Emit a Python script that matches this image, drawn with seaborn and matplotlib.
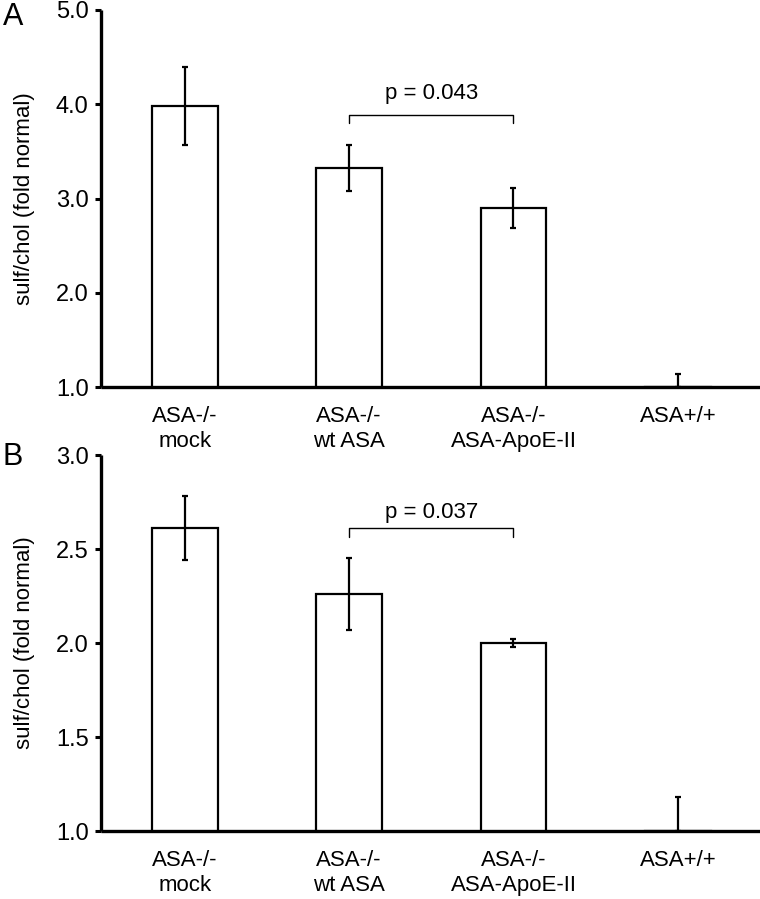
import matplotlib
matplotlib.use("Agg")
import matplotlib.pyplot as plt
import seaborn as sns
import pandas as pd
import numpy as np

categories = ["ASA-/-\nmock", "ASA-/-\nwt ASA", "ASA-/-\nASA-ApoE-II", "ASA+/+"]
a_mean = [3.98, 3.32, 2.90, 1.00]
a_err_lo = [0.41, 0.245, 0.215, 0.0]
a_err_hi = [0.41, 0.245, 0.215, 0.14]
b_mean = [2.61, 2.26, 2.00, 1.00]
b_err_lo = [0.17, 0.19, 0.02, 0.0]
b_err_hi = [0.17, 0.19, 0.02, 0.18]
a_ticks = [1.0, 2.0, 3.0, 4.0, 5.0]
b_ticks = [1.0, 1.5, 2.0, 2.5, 3.0]
a_p = "p = 0.043"
b_p = "p = 0.037"

sns.set_style("ticks")
plt.rcParams['font.family'] = ['Liberation Sans', 'DejaVu Sans']
plt.rcParams['text.color'] = 'black'
plt.rcParams['axes.labelcolor'] = 'black'

fig = plt.figure(figsize=(7.6, 8.99), dpi=100)
axA = fig.add_axes([101/760, (899-387)/899, 659/760, 377/899])
axB = fig.add_axes([101/760, (899-831)/899, 659/760, 376/899])


def panel(ax, mean, lo, hi, ticks, ptext, bracket_y, text_y, letter, letter_y):
    df = pd.DataFrame({"group": categories, "value": mean})
    sns.barplot(data=df, x="group", y="value", ax=ax, color="white",
                edgecolor="black", linewidth=1.6, width=0.40, errorbar=None,
                saturation=1)
    xs = np.arange(len(categories))
    ax.errorbar(xs, mean, yerr=[lo, hi], fmt="none", ecolor="black",
                elinewidth=1.6, capsize=2.5, capthick=1.6, zorder=5)
    ax.set_ylim(ticks[0], ticks[-1])
    ax.set_yticks(ticks)
    ax.set_yticklabels([f"{t:.1f}" for t in ticks])
    ax.set_xlim(-0.51, 3.5)
    ax.set_xlabel("")
    ax.set_ylabel("sulf/chol (fold normal)", fontsize=16)
    ax.yaxis.set_label_coords(-0.100, 0.5)
    for s in ["top", "right"]:
        ax.spines[s].set_visible(False)
    for s in ["left", "bottom"]:
        ax.spines[s].set_linewidth(2.4)
        ax.spines[s].set_color("black")
        ax.spines[s].set_capstyle("butt")
    ax.tick_params(axis="y", length=4, width=2.2, pad=5, labelsize=17,
                   colors="black")
    ax.tick_params(axis="x", length=0, pad=14, labelsize=16, colors="black")
    # significance bracket between groups 1 and 2
    rng = ticks[-1] - ticks[0]
    drop = rng * 0.022
    ax.plot([1, 1, 2, 2], [bracket_y - drop, bracket_y, bracket_y, bracket_y - drop],
            color="black", lw=1.0, clip_on=False)
    ax.text(1.5, text_y, ptext, ha="center", va="baseline", fontsize=16)
    ax.text(-0.149, letter_y, letter, transform=ax.transAxes, fontsize=22,
            ha="left", va="center")


panel(axA, a_mean, a_err_lo, a_err_hi, a_ticks, a_p, 3.886, 4.053, "A", 0.981)
panel(axB, b_mean, b_err_lo, b_err_hi, b_ticks, b_p, 2.61, 2.666, "B", 0.995)

fig.savefig("out.png", dpi=100)
